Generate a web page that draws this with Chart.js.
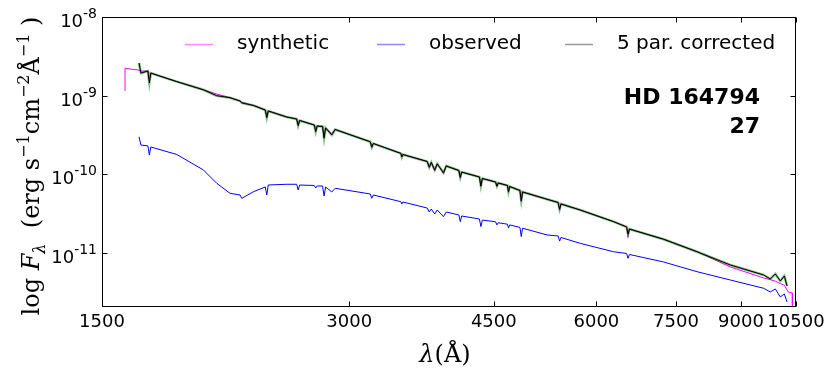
<!DOCTYPE html>
<html>
<head>
<meta charset="utf-8">
<script src="https://cdn.jsdelivr.net/npm/chart.js@4.4.0/dist/chart.umd.min.js"></script>
<style>
  html, body { margin: 0; padding: 0; background: #fff; }
</style>
</head>
<body>
<canvas id="spectrum" width="830" height="374"></canvas>
<script>
// Длины волн (Å) — общая сетка для всех спектров
const wavelength = [
  1600, 1600, 1659, 1664, 1673, 1706, 1713, 1720, 1850, 1993,
  2069, 2148, 2209, 2220, 2294, 2371, 2381, 2391, 2518, 2589,
  2600, 2611, 2720, 2731, 2742, 2784, 2796, 2808, 2857, 2884,
  3182, 3196, 3210, 3467, 3477, 3487, 3733, 3755, 3776, 3813,
  3840, 3908, 3938, 4080, 4096, 4112, 4322, 4340, 4358, 4522,
  4539, 4556, 4675, 4689, 4704, 4842, 4860, 4878, 5224, 5390,
  5411, 5432, 5733, 6295, 6530, 6556, 6582, 7243, 7956, 8734,
  9589, 9770, 9908, 10048, 10162, 10240, 10274, 10394, 10394
];

// Синтетический спектр (erg s^-1 cm^-2 Å^-1)
const synthetic = [
  1.15e-9, 2.23e-9, 2.12e-9, 2.10e-9, 2.06e-9, 2.06e-9, 1.58e-9, 1.94e-9, 1.51e-9, 1.19e-9,
  1.05e-9, 9.43e-10, 8.57e-10, 8.30e-10, 7.51e-10, 6.58e-10, 5.50e-10, 6.39e-10, 5.36e-10, 5.06e-10,
  4.30e-10, 4.84e-10, 4.24e-10, 3.60e-10, 4.12e-10, 4.06e-10, 3.00e-10, 3.89e-10, 3.30e-10, 3.72e-10,
  2.60e-10, 2.30e-10, 2.47e-10, 1.85e-10, 1.70e-10, 1.79e-10, 1.46e-10, 1.20e-10, 1.42e-10, 1.10e-10,
  1.36e-10, 1.02e-10, 1.28e-10, 1.12e-10, 8.90e-11, 1.07e-10, 9.27e-11, 7.00e-11, 8.87e-11, 8.01e-11,
  6.90e-11, 7.78e-11, 7.23e-11, 5.90e-11, 7.02e-11, 6.24e-11, 4.50e-11, 5.98e-11, 4.83e-11, 4.39e-11,
  3.50e-11, 4.21e-11, 3.53e-11, 2.51e-11, 2.15e-11, 1.59e-11, 2.02e-11, 1.50e-11, 1.04e-11, 6.66e-12,
  4.83e-12, 4.60e-12, 4.40e-12, 4.10e-12, 3.90e-12, 3.40e-12, 3.21e-12, 3.11e-12, 2.07e-12
];

// Наблюдаемый спектр
const observed = [
  null, null, null, 3.01e-10, 2.36e-10, 2.30e-10, 1.76e-10, 2.23e-10, 1.79e-10, 1.14e-10,
  7.71e-11, 5.75e-11, 5.47e-11, 4.97e-11, 6.03e-11, 6.92e-11, 5.47e-11, 7.33e-11, 7.49e-11, 7.49e-11,
  6.34e-11, 7.33e-11, 7.23e-11, 6.72e-11, 7.12e-11, 7.12e-11, 5.31e-11, 6.92e-11, 5.98e-11, 6.66e-11,
  5.64e-11, 4.97e-11, 5.47e-11, 4.50e-11, 4.21e-11, 4.46e-11, 3.74e-11, 3.33e-11, 3.63e-11, 3.14e-11,
  3.53e-11, 2.90e-11, 3.33e-11, 3.05e-11, 2.51e-11, 2.96e-11, 2.71e-11, 2.17e-11, 2.63e-11, 2.50e-11,
  2.28e-11, 2.43e-11, 2.33e-11, 2.08e-11, 2.28e-11, 2.12e-11, 1.62e-11, 2.07e-11, 1.70e-11, 1.65e-11,
  1.42e-11, 1.58e-11, 1.33e-11, 1.04e-11, 9.88e-12, 8.59e-12, 9.60e-12, 7.71e-12, 5.80e-12, 4.55e-12,
  3.57e-12, 3.21e-12, 3.50e-12, 2.77e-12, 3.02e-12, 2.39e-12, null, null, null
];

// Спектр после коррекции по 5 параметрам
const corrected = [
  null, null, null, 2.60e-9, 1.94e-9, 2.06e-9, 1.45e-9, 1.94e-9, 1.51e-9, 1.19e-9,
  1.00e-9, 9.43e-10, 8.57e-10, 8.08e-10, 7.51e-10, 6.58e-10, 5.25e-10, 6.39e-10, 5.36e-10, 5.06e-10,
  4.16e-10, 4.84e-10, 4.24e-10, 3.49e-10, 4.12e-10, 4.06e-10, 2.88e-10, 3.89e-10, 3.17e-10, 3.72e-10,
  2.60e-10, 2.21e-10, 2.47e-10, 1.85e-10, 1.66e-10, 1.79e-10, 1.46e-10, 1.24e-10, 1.42e-10, 1.14e-10,
  1.36e-10, 1.05e-10, 1.28e-10, 1.12e-10, 9.19e-11, 1.07e-10, 9.27e-11, 7.12e-11, 8.87e-11, 8.01e-11,
  7.12e-11, 7.78e-11, 7.23e-11, 6.03e-11, 7.02e-11, 6.24e-11, 4.63e-11, 5.98e-11, 4.83e-11, 4.39e-11,
  3.60e-11, 4.21e-11, 3.53e-11, 2.51e-11, 2.15e-11, 1.75e-11, 2.02e-11, 1.50e-11, 1.04e-11, 7.06e-12,
  5.27e-12, 4.69e-12, 5.43e-12, 4.42e-12, 5.12e-12, 3.82e-12, null, null, null
];

// Подписи осей
const xTicks = [1500, 3000, 4500, 6000, 7500, 9000, 10500];
const yTicks = [1e-8, 1e-9, 1e-10, 1e-11];
const starName = 'HD 164794';
const starNote = '27';

const SANS = '"DejaVu Sans", sans-serif';
const SERIF = '"DejaVu Serif", serif';

// Подпись оси Y по кусочкам: [текст, стиль, размер, сдвиг по вертикали]
const yTitleRuns = [
  ['log ', 'normal', 24, 0], ['F', 'italic', 24, 0], ['λ', 'italic', 16, 6],
  ['  (erg s', 'normal', 24, 0], ['−1', 'normal', 16, -10],
  ['cm', 'normal', 24, 0], ['−2', 'normal', 16, -10],
  ['Å', 'normal', 24, 0], ['−1', 'normal', 16, -10], [' )', 'normal', 24, 0]
];

// Рамка, засечки внутрь, подписи и легенда — как в matplotlib
const frame = {
  id: 'frame',
  afterDraw(chart) {
    const { ctx, chartArea: a, scales: { x, y } } = chart;
    const L = Math.round(a.left) + 0.5, R = Math.round(a.right) - 0.5;
    const T = Math.round(a.top) + 0.5, B = Math.round(a.bottom) - 0.5;
    ctx.save();
    ctx.strokeStyle = '#000';
    ctx.lineWidth = 1;
    ctx.strokeRect(L, T, R - L, B - T);

    // засечки
    ctx.beginPath();
    xTicks.forEach(v => {
      const px = Math.round(x.getPixelForValue(v)) + 0.5;
      ctx.moveTo(px, B); ctx.lineTo(px, B - 5);
      ctx.moveTo(px, T); ctx.lineTo(px, T + 5);
    });
    yTicks.forEach(v => {
      const py = Math.round(y.getPixelForValue(v)) + 0.5;
      ctx.moveTo(L, py); ctx.lineTo(L + 5, py);
      ctx.moveTo(R, py); ctx.lineTo(R - 5, py);
    });
    ctx.stroke();

    // подписи оси Y: 10 со степенью
    ctx.fillStyle = '#000';
    ctx.textAlign = 'right';
    ctx.textBaseline = 'alphabetic';
    yTicks.forEach(v => {
      const py = y.getPixelForValue(v);
      const exp = String(Math.round(Math.log10(v)));
      ctx.font = '14px ' + SANS;
      const w = ctx.measureText(exp).width;
      ctx.fillText(exp, 97, py + 1);
      ctx.font = '18px ' + SANS;
      ctx.fillText('10', 97 - w, py + 10);
    });

    // заголовок оси X
    ctx.textAlign = 'left';
    ctx.font = 'italic 24px ' + SERIF;
    const lw = ctx.measureText('λ').width;
    ctx.font = '24px ' + SERIF;
    const rw = ctx.measureText('(Å)').width;
    const x0 = 445 - (lw + rw) / 2;
    ctx.font = 'italic 24px ' + SERIF;
    ctx.fillText('λ', x0, 362);
    ctx.font = '24px ' + SERIF;
    ctx.fillText('(Å)', x0 + lw, 362);

    // заголовок оси Y (повёрнут)
    ctx.save();
    ctx.translate(30, 166);
    ctx.rotate(-Math.PI / 2);
    let total = 0;
    yTitleRuns.forEach(([t, st, sz]) => {
      ctx.font = `${st} ${sz}px ${SERIF}`;
      total += ctx.measureText(t).width;
    });
    let cx = -total / 2;
    yTitleRuns.forEach(([t, st, sz, dy]) => {
      ctx.font = `${st} ${sz}px ${SERIF}`;
      ctx.fillText(t, cx, 9 + dy);
      cx += ctx.measureText(t).width;
    });
    ctx.restore();

    // легенда внутри области
    const legendX = [185, 377, 565];
    const items = chart.data.datasets.filter(d => d.label).reverse();
    ctx.font = '20px ' + SANS;
    ctx.textBaseline = 'middle';
    items.forEach((d, i) => {
      ctx.strokeStyle = d.legendColor;
      ctx.lineWidth = 1.5;
      ctx.beginPath();
      ctx.moveTo(legendX[i], 44.5);
      ctx.lineTo(legendX[i] + 28, 44.5);
      ctx.stroke();
      ctx.fillText(d.label, legendX[i] + 52, 44);
    });

    // имя звезды
    ctx.textAlign = 'right';
    ctx.textBaseline = 'alphabetic';
    ctx.font = 'bold 22px ' + SANS;
    ctx.fillText(starName, 760, 104);
    ctx.fillText(starNote, 760, 133);
    ctx.restore();
  }
};

const toPoints = arr => wavelength.map((w, i) => ({ x: w, y: arr[i] }));

const ctx = document.getElementById('spectrum').getContext('2d');
const chart = new Chart(ctx, {
  type: 'line',
  data: {
    datasets: [
      { label: '5 par. corrected', data: toPoints(corrected), borderColor: '#000000', borderWidth: 1, legendColor: 'rgba(0,0,0,0.4)' },
      { label: '', data: toPoints(corrected), borderColor: 'rgba(0,128,0,0.5)', borderWidth: 2.5 },
      { label: 'observed', data: toPoints(observed), borderColor: '#0000ff', borderWidth: 1, legendColor: 'rgba(0,0,255,0.45)' },
      { label: 'synthetic', data: toPoints(synthetic), borderColor: '#ff00ff', borderWidth: 1, legendColor: 'rgba(255,0,255,0.45)' }
    ]
  },
  options: {
    responsive: false,
    animation: false,
    devicePixelRatio: 1,
    layout: { padding: { top: 17, right: 34, left: 0, bottom: 0 } },
    elements: { point: { radius: 0 }, line: { tension: 0 } },
    plugins: { legend: { display: false }, tooltip: { enabled: false } },
    scales: {
      x: {
        type: 'logarithmic',
        min: 1500,
        max: 10500,
        afterBuildTicks: s => { s.ticks = xTicks.map(v => ({ value: v })); },
        afterFit: s => { s.height = 67; },
        grid: { display: false, drawTicks: false },
        border: { display: false },
        ticks: {
          autoSkip: false,
          maxRotation: 0,
          padding: 5,
          color: '#000',
          font: { family: 'DejaVu Sans', size: 18 },
          callback: v => String(v)
        }
      },
      y: {
        type: 'logarithmic',
        min: 2.065e-12,
        max: 1e-8,
        afterBuildTicks: s => { s.ticks = yTicks.map(v => ({ value: v })); },
        afterFit: s => { s.width = 102; },
        grid: { display: false, drawTicks: false },
        border: { display: false },
        ticks: { display: false }
      }
    }
  },
  plugins: [frame]
});
</script>
</body>
</html>
